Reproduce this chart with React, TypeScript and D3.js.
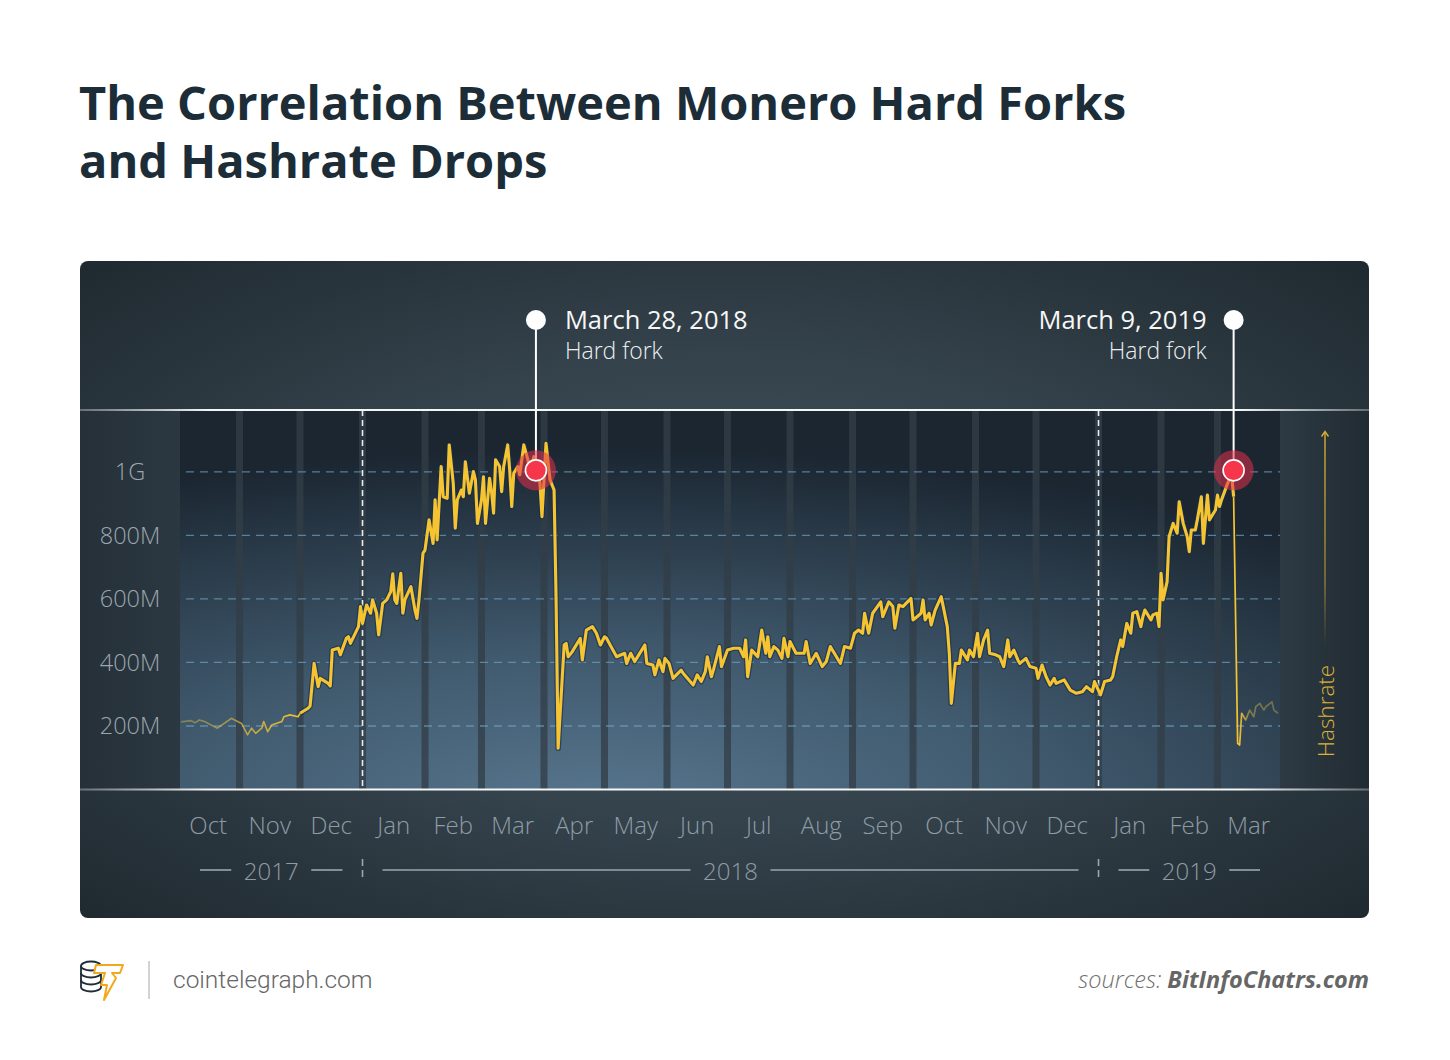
import React from 'react';
import * as d3 from 'd3';

// ---------- DATA ----------
const SERIES_START = '2017-10-01';
const AXIS_END = '2019-04-01';

// days since SERIES_START
const dayOffsets = [
  2, 7, 9, 11, 14, 20, 27, 32, 35, 37,
  39, 42, 43, 45, 47, 52, 53, 56, 60, 61,
  65, 66, 68, 70, 71, 75, 76, 77, 80, 81,
  84, 85, 86, 90, 91, 92, 94, 96, 97, 99,
  100, 102, 104, 106, 107, 108, 109, 111, 112, 113,
  116, 118, 119, 120, 122, 123, 125, 127, 128, 129,
  131, 132, 134, 135, 137, 138, 139, 141, 142, 143,
  145, 147, 148, 149, 151, 152, 153, 155, 156, 157,
  158, 160, 161, 162, 164, 165, 166, 167, 169, 170,
  172, 174, 175, 177, 180, 181, 183, 185, 187, 188,
  189, 192, 193, 194, 196, 200, 201, 203, 206, 208,
  210, 212, 213, 218, 222, 223, 225, 227, 229, 232,
  233, 236, 237, 239, 241, 242, 244, 246, 250, 251,
  256, 258, 260, 262, 263, 265, 266, 269, 270, 273,
  276, 279, 281, 282, 283, 285, 288, 290, 292, 293,
  294, 296, 298, 300, 301, 303, 304, 307, 308, 311,
  312, 314, 317, 320, 322, 324, 326, 329, 331, 334,
  336, 338, 340, 341, 343, 345, 349, 350, 353, 355,
  356, 358, 360, 364, 365, 367, 369, 370, 371, 373,
  374, 376, 379, 380, 382, 383, 384, 386, 388, 389,
  392, 393, 395, 397, 398, 400, 402, 403, 406, 408,
  410, 412, 413, 415, 417, 418, 421, 423, 426, 427,
  429, 431, 433, 435, 436, 440, 443, 446, 449, 451,
  454, 455, 458, 460, 463, 464, 466, 468, 469, 471,
  473, 474, 476, 478, 479, 480, 483, 484, 486, 487,
  488, 489, 491, 492, 494, 496, 497, 499, 501, 502,
  503, 505, 506, 508, 509, 511, 512, 515, 516, 517,
  518, 521, 523, 524, 526, 527, 528, 530, 532, 534,
  535, 537, 539, 540, 543, 544, 546,
];

// hashrate in MH/s
const hashrateMH = [
  213, 217, 210, 219, 213, 193, 224, 208, 172, 193,
  177, 193, 214, 182, 203, 214, 229, 235, 229, 240,
  256, 263, 397, 324, 350, 334, 326, 439, 445, 424,
  476, 481, 460, 513, 576, 523, 581, 555, 597, 555,
  487, 586, 597, 623, 679, 597, 586, 681, 555, 597,
  639, 565, 539, 597, 744, 754, 849, 775, 912, 786,
  1017, 922, 917, 1085, 964, 823, 912, 943, 922, 1032,
  933, 1001, 975, 838, 912, 985, 838, 980, 938, 870,
  1038, 1017, 938, 1017, 1085, 1006, 891, 996, 1017, 991,
  1085, 1038, 1001, 1048, 964, 859, 1090, 975, 943, 597,
  130, 455, 460, 418, 434, 476, 408, 502, 513, 492,
  455, 481, 476, 418, 429, 397, 429, 403, 424, 455,
  397, 392, 361, 408, 371, 413, 397, 350, 376, 366,
  329, 361, 340, 371, 418, 355, 376, 450, 387, 439,
  445, 445, 418, 471, 355, 439, 418, 502, 429, 481,
  418, 450, 439, 413, 476, 418, 466, 429, 429, 429,
  466, 397, 429, 387, 403, 450, 429, 397, 450, 445,
  492, 502, 492, 555, 492, 555, 591, 544, 591, 576,
  508, 581, 576, 602, 534, 544, 555, 597, 534, 555,
  518, 565, 607, 576, 513, 429, 271, 397, 397, 439,
  408, 439, 418, 492, 418, 471, 502, 429, 424, 418,
  387, 471, 418, 439, 408, 397, 413, 387, 382, 350,
  392, 355, 329, 350, 334, 345, 313, 303, 308, 324,
  308, 340, 298, 340, 345, 355, 418, 471, 450, 523,
  492, 555, 560, 513, 544, 565, 534, 550, 555, 513,
  681, 597, 654, 796, 838, 807, 906, 838, 796, 749,
  817, 817, 849, 922, 775, 927, 849, 880, 927, 891,
  912, 964, 991, 922, 145, 140, 240, 219, 250, 229,
  261, 271, 250, 261, 276, 250, 240,
];

const Y_MAX_MH = 1195;
const yTickValues = [200, 400, 600, 800, 1000];
const yTickLabels = ['200M', '400M', '600M', '800M', '1G'];

const monthLabels = ['Oct', 'Nov', 'Dec', 'Jan', 'Feb', 'Mar', 'Apr', 'May', 'Jun',
  'Jul', 'Aug', 'Sep', 'Oct', 'Nov', 'Dec', 'Jan', 'Feb', 'Mar'];

const yearLabels = ['2017', '2018', '2019'];
const yearStarts = ['2017-10-01', '2018-01-01', '2019-01-01'];
const yearEnds = ['2018-01-01', '2019-01-01', '2019-04-01'];

const forkDates = ['2018-03-28', '2019-03-09'];
const forkTitles = ['March 28, 2018', 'March 9, 2019'];
const forkSubtitles = ['Hard fork', 'Hard fork'];
const forkLevelsMH = [1005, 1005];

const TITLE_LINES = ['The Correlation Between Monero Hard Forks', 'and Hashrate Drops'];

// ---------- LAYOUT ----------
const W = 1450;
const H = 1060;
const CARD = { x: 80, y: 261, w: 1289, h: 657 };
const PLOT = { x0: 180, x1: 1280, top: 410, bottom: 789.5 };

const SANS = "'Open Sans', 'Noto Sans', sans-serif";

export default function App() {
  const parse = d3.utcParse('%Y-%m-%d');
  const t0 = parse(SERIES_START) as Date;
  const tEnd = parse(AXIS_END) as Date;

  const x = d3.scaleUtc().domain([t0, tEnd]).range([177, PLOT.x1]);
  const y = d3.scaleLinear().domain([0, Y_MAX_MH]).range([PLOT.bottom, PLOT.top]);

  const data = dayOffsets.map((d, i) => ({ day: d, date: d3.utcDay.offset(t0, d), v: hashrateMH[i] }));
  const line = d3.line<{ date: Date; v: number }>().x(d => x(d.date)).y(d => y(d.v));

  const early = data.filter(d => d.day <= 61);
  const main = data.filter(d => d.day >= 61 && d.day <= 524);
  const late = data.filter(d => d.day >= 524);

  const months = d3.utcMonth.range(t0, tEnd);
  const monthBounds = months.slice(1); // interior month boundaries
  const yearBoundaries = yearStarts.slice(1).map(s => parse(s) as Date);

  const gx = (v: number) => (v - PLOT.x0) / (PLOT.x1 - PLOT.x0);

  return (
    <div style={{ width: W, height: H, background: '#fff' }}>
      <style>{`body{margin:0;background:#fff}`}</style>
      <svg width={W} height={H} viewBox={`0 0 ${W} ${H}`} style={{ display: 'block' }}>
        <defs>
          <radialGradient id="cardBg" cx="0.5" cy="0.5" r="0.72">
            <stop offset="0" stopColor="#46555f" />
            <stop offset="0.5" stopColor="#34424b" />
            <stop offset="1" stopColor="#1e282f" />
          </radialGradient>
          <radialGradient id="plotBg" cx="0.38" cy="1.05" r="0.95">
            <stop offset="0" stopColor="#57768e" />
            <stop offset="0.45" stopColor="#3f586c" />
            <stop offset="1" stopColor="#1b2631" />
          </radialGradient>
          <linearGradient id="leftCol" x1="0" x2="1" y1="0" y2="0">
            <stop offset="0" stopColor="#253039" />
            <stop offset="1" stopColor="#2c3841" />
          </linearGradient>
          <linearGradient id="rightCol" x1="0" x2="1" y1="0" y2="0">
            <stop offset="0" stopColor="#2d3a44" />
            <stop offset="1" stopColor="#212b32" />
          </linearGradient>
          <linearGradient id="sepGrad" gradientUnits="userSpaceOnUse" x1={CARD.x} x2={CARD.x + CARD.w} y1="0" y2="0">
            <stop offset="0" stopColor="#fff" stopOpacity="0.3" />
            <stop offset="0.1" stopColor="#fff" stopOpacity="0.95" />
            <stop offset="0.9" stopColor="#fff" stopOpacity="0.95" />
            <stop offset="1" stopColor="#fff" stopOpacity="0.3" />
          </linearGradient>
          <linearGradient id="lineGrad" gradientUnits="userSpaceOnUse" x1={PLOT.x0} x2={PLOT.x1} y1="0" y2="0">
            <stop offset="0" stopColor="#cdb046" stopOpacity="0.45" />
            <stop offset={gx(305)} stopColor="#f6c431" stopOpacity="1" />
            <stop offset={gx(1239)} stopColor="#f6c431" stopOpacity="1" />
            <stop offset={gx(1250)} stopColor="#cdb046" stopOpacity="0.5" />
            <stop offset="1" stopColor="#cdb046" stopOpacity="0.4" />
          </linearGradient>
          <linearGradient id="arrowGrad" gradientUnits="userSpaceOnUse" x1="0" x2="0" y1="432" y2="645">
            <stop offset="0" stopColor="#d8ae36" stopOpacity="1" />
            <stop offset="0.7" stopColor="#d8ae36" stopOpacity="0.6" />
            <stop offset="1" stopColor="#d8ae36" stopOpacity="0" />
          </linearGradient>
          <clipPath id="plotClip">
            <rect x={PLOT.x0} y={PLOT.top} width={PLOT.x1 - PLOT.x0} height={PLOT.bottom - PLOT.top} />
          </clipPath>
        </defs>

        {/* Title */}
        {TITLE_LINES.map((t, i) => (
          <text key={t} x={79} y={120 + i * 58} fontFamily={SANS} fontWeight={700} fontSize={47} fill="#1c2d38">{t}</text>
        ))}

        {/* Card */}
        <rect x={CARD.x} y={CARD.y} width={CARD.w} height={CARD.h} rx={8} fill="url(#cardBg)" />

        {/* side columns */}
        <rect x={CARD.x} y={PLOT.top} width={PLOT.x0 - CARD.x} height={PLOT.bottom - PLOT.top} fill="url(#leftCol)" />
        <rect x={PLOT.x1} y={PLOT.top} width={CARD.x + CARD.w - PLOT.x1} height={PLOT.bottom - PLOT.top} fill="url(#rightCol)" />

        {/* plot background */}
        <rect x={PLOT.x0} y={PLOT.top} width={PLOT.x1 - PLOT.x0} height={PLOT.bottom - PLOT.top} fill="url(#plotBg)" />

        {/* month bands */}
        <g clipPath="url(#plotClip)">
          {monthBounds.map((m, i) => (
            <rect key={i} x={x(m) - 3.5} y={PLOT.top} width={7} height={PLOT.bottom - PLOT.top} fill="#323e47" opacity={0.78} />
          ))}
          {yearBoundaries.map((m, i) => (
            <line key={i} x1={x(m)} x2={x(m)} y1={PLOT.top} y2={PLOT.bottom} stroke="#e8ecef" strokeWidth={1.6} strokeDasharray="6 4" />
          ))}
        </g>

        {/* horizontal grid */}
        <g>
          {yTickValues.map(v => (
            <line key={v} x1={PLOT.x0 + 6} x2={PLOT.x1} y1={y(v)} y2={y(v)} stroke="#6fa1c2" strokeOpacity={0.7} strokeWidth={1.3} strokeDasharray="8 6" />
          ))}
        </g>

        {/* y labels */}
        {yTickValues.map((v, i) => (
          <text key={v} x={130} y={y(v) + 8.5} textAnchor="middle" fontFamily={SANS} fontWeight={300} fontSize={23.5} fill="#9aa7b0">{yTickLabels[i]}</text>
        ))}

        {/* series */}
        <g clipPath="url(#plotClip)">
          <path d={line(early) || ''} fill="none" stroke="url(#lineGrad)" strokeWidth={1.6} strokeLinejoin="round" />
          <path d={line(main) || ''} fill="none" stroke="#14304f" strokeOpacity={0.65} strokeWidth={5.6} strokeLinejoin="round" />
          <path d={line(main) || ''} fill="none" stroke="url(#lineGrad)" strokeWidth={3.1} strokeLinejoin="round" />
          <path d={line(late) || ''} fill="none" stroke="url(#lineGrad)" strokeWidth={1.7} strokeLinejoin="round" />
        </g>

        {/* separators */}
        <rect x={CARD.x} y={PLOT.top - 1} width={CARD.w} height={2} fill="url(#sepGrad)" />
        <rect x={CARD.x} y={PLOT.bottom - 1} width={CARD.w} height={2} fill="url(#sepGrad)" />

        {/* fork annotations */}
        {forkDates.map((fd, i) => {
          const fx = x(parse(fd) as Date);
          const fy = y(forkLevelsMH[i]);
          const right = i === 0;
          return (
            <g key={fd}>
              <line x1={fx} x2={fx} y1={320} y2={fy} stroke="#fff" strokeWidth={2} />
              <circle cx={fx} cy={320} r={10} fill="#fff" />
              <circle cx={fx} cy={fy} r={20} fill="#e3304a" opacity={0.55} />
              <circle cx={fx} cy={fy} r={10.5} fill="#f5364b" stroke="#fff" strokeWidth={1.6} />
              <text x={right ? fx + 29 : fx - 27} y={329} textAnchor={right ? 'start' : 'end'} fontFamily={SANS} fontWeight={400} fontSize={25.5} fill="#f7f7f7">{forkTitles[i]}</text>
              <text x={right ? fx + 29 : fx - 27} y={359} textAnchor={right ? 'start' : 'end'} fontFamily={SANS} fontWeight={300} fontSize={23} fill="#eceeef">{forkSubtitles[i]}</text>
            </g>
          );
        })}

        {/* Hashrate label and arrow */}
        <line x1={1325} x2={1325} y1={432} y2={645} stroke="url(#arrowGrad)" strokeWidth={1.4} />
        <path d="M1321.5,436.5 L1325,431.5 L1328.5,436.5" fill="none" stroke="#d8ae36" strokeWidth={1.4} />
        <text transform="translate(1334,711) rotate(-90)" textAnchor="middle" fontFamily={SANS} fontWeight={300} fontSize={22.5} fill="#dcb139">Hashrate</text>

        {/* month labels */}
        {months.map((m, i) => {
          const next = i + 1 < months.length ? months[i + 1] : tEnd;
          const cx = (x(m) + x(next)) / 2;
          return (
            <text key={i} x={cx} y={834} textAnchor="middle" fontFamily={SANS} fontWeight={300} fontSize={24} fill="#8e9ca6">{monthLabels[i]}</text>
          );
        })}

        {/* year labels */}
        {yearLabels.map((yl, i) => {
          const xs = Math.max(x(parse(yearStarts[i]) as Date), PLOT.x0);
          const xe = x(parse(yearEnds[i]) as Date);
          const cx = (xs + xe) / 2;
          return (
            <g key={yl}>
              <line x1={xs + 20} x2={cx - 40} y1={870} y2={870} stroke="#9aa7b0" strokeWidth={1.6} />
              <line x1={cx + 40} x2={xe - 20} y1={870} y2={870} stroke="#9aa7b0" strokeWidth={1.6} />
              <text x={cx} y={880} textAnchor="middle" fontFamily={SANS} fontWeight={300} fontSize={24} fill="#8e9ca6">{yl}</text>
            </g>
          );
        })}
        {yearBoundaries.map((m, i) => (
          <line key={i} x1={x(m)} x2={x(m)} y1={859} y2={879} stroke="#9aa7b0" strokeWidth={1.6} strokeDasharray="7 4" />
        ))}

        {/* footer */}
        <g>
          {/* coin stack */}
          <path d="M81,966 V987 A10,4.5 0 0 0 101,987 V966" fill="#fff" stroke="#1f2d38" strokeWidth={1.8} />
          <path d="M81,973 A10,4.5 0 0 0 101,973 M81,980 A10,4.5 0 0 0 101,980" fill="none" stroke="#1f2d38" strokeWidth={1.8} />
          <ellipse cx={91} cy={966} rx={10} ry={4.5} fill="#fff" stroke="#1f2d38" strokeWidth={1.8} />
          {/* lightning T */}
          <path d="M96,965 L123,965 L120,973 L112,973 L116,978 L104,1000 L107,985 L101,985 L105,973 L94,973 Z" fill="#fff" stroke="#f2a81d" strokeWidth={2} strokeLinejoin="round" />
          <line x1={149} x2={149} y1={961} y2={999} stroke="#c4c4c4" strokeWidth={1.5} />
          <text x={173} y={988} fontFamily="Roboto, 'Open Sans', sans-serif" fontWeight={300} fontSize={24.5} fill="#666">cointelegraph.com</text>
          <text x={1369} y={988} textAnchor="end" fontFamily={SANS} fontStyle="italic" fontSize={23.5} fill="#707070">
            <tspan fontWeight={300}>sources: </tspan>
            <tspan fontWeight={700} fill="#666">BitInfoChatrs.com</tspan>
          </text>
        </g>
      </svg>
    </div>
  );
}
